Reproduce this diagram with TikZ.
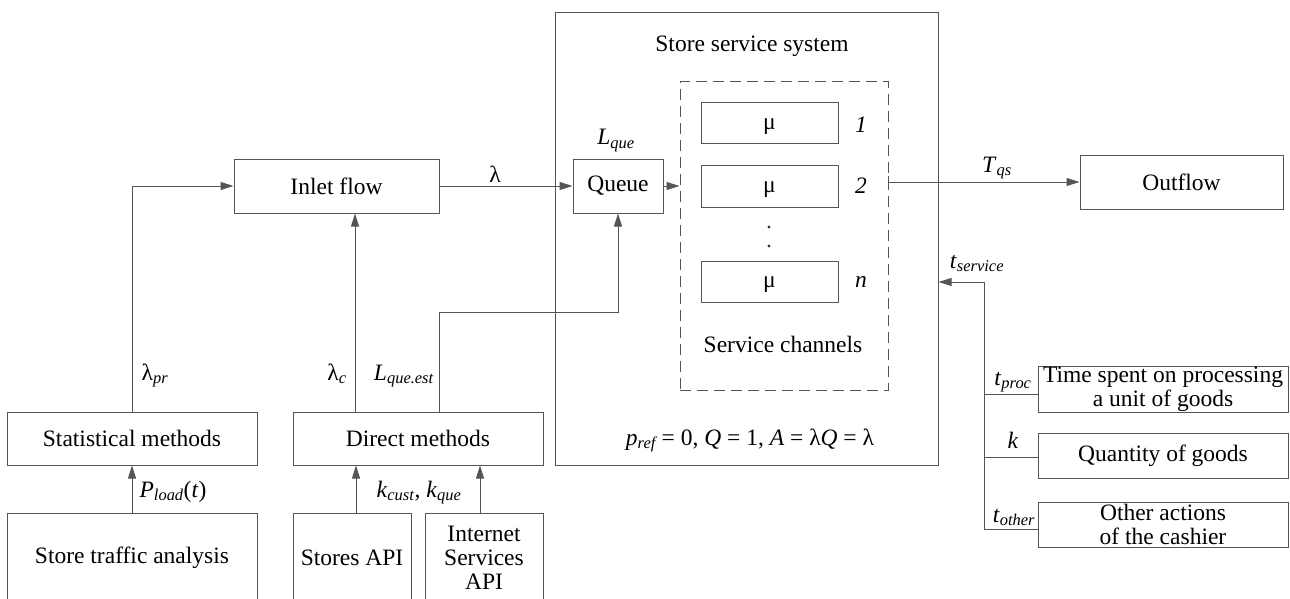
\documentclass[tikz,border=0pt]{standalone}
\usepackage{fontspec}
\setmainfont{Liberation Serif}
\usetikzlibrary{arrows.meta}
\definecolor{linec}{HTML}{555555}
\newcommand\sbs[1]{\textsubscript{\textit{#1}}}
\begin{document}
\begin{tikzpicture}[x=1pt,y=-1pt,
  font=\fontsize{23.5}{24}\selectfont,
  box/.style={draw=linec, line width=1pt, inner sep=0pt, align=center},
  mubox/.style={box, minimum width=137pt, text height=12pt, text depth=0pt},
  conn/.style={draw=linec, line width=1pt},
  arr/.style={conn, -{Triangle[length=13pt,width=8pt]}},
  lbl/.style={inner sep=0pt, anchor=base}]
\useasboundingbox (0,0) rectangle (1290,599);
\clip (0,0) rectangle (1290,599);

% store service system
\node[box, minimum width=383pt, minimum height=452pt] (store) at (746.5,239) {};
\node[lbl] (storetitle) at (752,52) {Store service system};
\node[box, dash pattern=on 11pt off 6pt, minimum width=208pt, minimum height=308pt] (chan) at (784,236) {};
\node[mubox, minimum height=41pt] (mu1) at (769.5,123.5) {μ};
\node[mubox, minimum height=42pt] (mu2) at (769.5,186) {μ};
\node[mubox, minimum height=41pt] (mu3) at (769.5,281.5) {μ};
\node[lbl] (k1) at (861,133) {\textit{1}};
\node[lbl] (k2) at (861,193) {\textit{2}};
\node[lbl] (kn) at (861,287) {\textit{n}};
\fill[black!80] (769,227) circle (1.6pt) (769,246) circle (1.6pt);
\node[lbl] (chtitle) at (783,352) {Service channels};
\node[lbl] (formula) at (750,445) {\textit{p}\sbs{ref}\,= 0, \textit{Q} = 1, \textit{A} = λ\textit{Q} = λ};

% queue and flows
\node[box, minimum width=90pt, minimum height=54pt] (queue) at (618,186) {Queue};
\node[lbl] (lque) at (616,145) {\textit{L}\sbs{que}};
\node[box, minimum width=205pt, minimum height=54pt] (inlet) at (336.5,186) {Inlet flow};
\node[box, minimum width=203pt, minimum height=54pt] (outflow) at (1181.5,182) {Outflow};

% estimation methods and sources
\node[box, minimum width=250pt, minimum height=53pt] (stat) at (132,438.5) {Statistical methods};
\node[box, minimum width=250pt, minimum height=53pt] (direct) at (418,438.5) {Direct methods};
\node[box, anchor=north, minimum width=250pt, minimum height=88pt] (traffic) at (132,513) {Store traffic analysis};
\node[box, anchor=north, minimum width=118pt, minimum height=88pt] (stores) at (352,513) {Stores API};
\node[box, anchor=north, minimum width=118pt, minimum height=88pt] (inet) at (484,513) {Internet\\Services\\API};

% service time components
\node[box, minimum width=250pt, minimum height=46pt] (tproc) at (1163,389) {Time spent on processing\\a unit of goods};
\node[box, minimum width=250pt, minimum height=45pt] (qty) at (1163,455.5) {Quantity of goods};
\node[box, minimum width=250pt, minimum height=45pt] (other) at (1163,524.5) {Other actions\\of the cashier};

% connector anchors
\coordinate (lc) at (355,0);
\coordinate (le) at (439,312);
\coordinate (sa) at (356,0);
\coordinate (ia) at (480,0);
\coordinate (oj) at (888,182);
\coordinate (tj) at (984,282);
\coordinate (b1) at (984,394);
\coordinate (b2) at (984,457);
\coordinate (b3) at (984,529);

% connectors
\draw[arr] (stat.north) |- (inlet.west);
\draw[arr] (traffic.north) -- (stat.south);
\draw[arr] (direct.north -| lc) -- (inlet.south -| lc);
\draw[arr] (direct.north -| le) |- (le -| queue.south) -- (queue.south);
\draw[arr] (stores.north -| sa) -- (direct.south -| sa);
\draw[arr] (inet.north -| ia) -- (direct.south -| ia);
\draw[arr] (inlet.east) -- (queue.west);
\draw[arr] (queue.east) -- (chan.west |- queue.east);
\draw[arr] (oj) -- (outflow.west);
\draw[conn] ([yshift=6pt]oj) -- ([yshift=-6pt]oj);
\draw[arr] (tj) -- (store.east |- tj);
\draw[conn] (tj) -- (b3);
\draw[conn] (b1) -- (b1 -| tproc.west);
\draw[conn] (b2) -- (b2 -| qty.west);
\draw[conn] (b3) -- (b3 -| other.west);

% connector labels
\node[lbl] (llam) at (495,182) {λ};
\node[lbl] (lpr) at (155,380) {λ\sbs{pr}};
\node[lbl] (lcl) at (337,380) {λ\sbs{c}};
\node[lbl] (lest) at (404,380) {\textit{L}\sbs{que.est}};
\node[lbl] (lload) at (173,497) {\textit{P}\sbs{load}(\textit{t})};
\node[lbl] (lk) at (419,497) {\textit{k}\sbs{cust}, \textit{k}\sbs{que}};
\node[lbl] (ltqs) at (997,172) {\textit{T}\sbs{qs}};
\node[lbl] (lts) at (977,268) {\textit{t}\sbs{service}};
\node[lbl] (ltp) at (1013,385) {\textit{t}\sbs{proc}};
\node[lbl] (ltk) at (1013,448) {\textit{k}};
\node[lbl] (lto) at (1014,522) {\textit{t}\sbs{other}};
\end{tikzpicture}
\end{document}
